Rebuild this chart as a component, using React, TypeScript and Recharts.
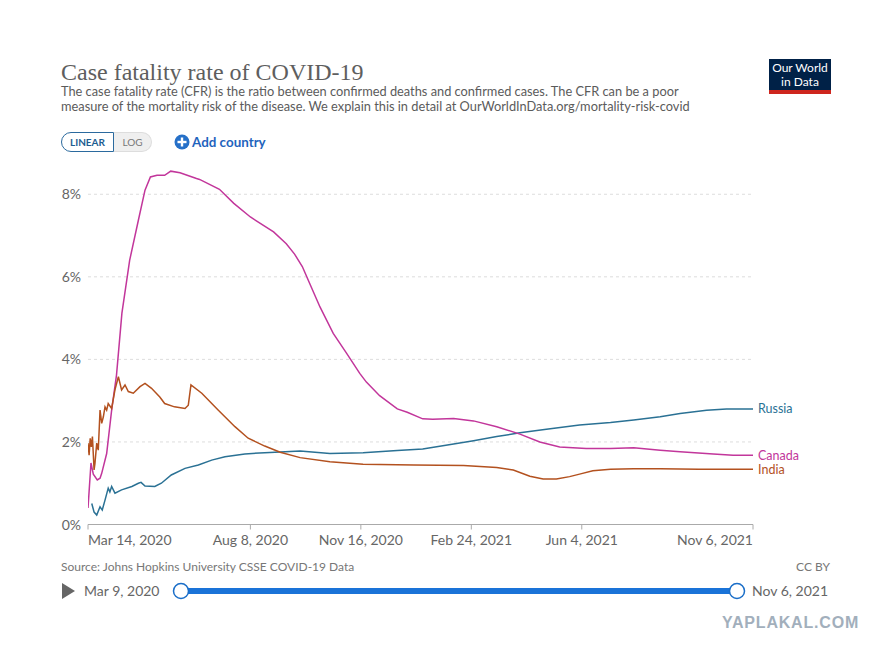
import React from "react";
import { LineChart, Line, XAxis, YAxis, CartesianGrid } from "recharts";

// Days counted from Mar 14, 2020 (first axis tick)
const TICK_DAYS = [0, 147, 247, 347, 447, 602];
const TICK_LABELS = ["Mar 14, 2020", "Aug 8, 2020", "Nov 16, 2020", "Feb 24, 2021", "Jun 4, 2021", "Nov 6, 2021"];
const Y_TICKS = [0, 2, 4, 6, 8];
const GRID_VALUES = [2, 4, 6, 8];

const canadaDays = [0, 2.7, 4.8, 8.4, 10.9, 12.4, 16.9, 21.4, 25.8, 30.7, 37.7, 45.6, 51.6, 56.5, 62.5, 69.4, 74.9, 83.3, 98.2, 101, 119, 132, 147, 168, 179.5, 187, 194, 201, 210, 222, 234, 246, 252, 264, 280, 289, 303, 312, 331, 349, 370, 391, 409, 427, 451, 473, 494, 518, 536, 566, 584, 602];
const canadaCfr = [0.4, 1.49, 1.22, 1.08, 1.12, 1.24, 1.72, 2.77, 3.62, 5.12, 6.4, 7.37, 8.1, 8.42, 8.46, 8.46, 8.56, 8.52, 8.38, 8.36, 8.12, 7.78, 7.45, 7.09, 6.8, 6.55, 6.25, 5.82, 5.27, 4.63, 4.15, 3.66, 3.45, 3.12, 2.8, 2.72, 2.56, 2.55, 2.57, 2.51, 2.37, 2.19, 2.0, 1.88, 1.84, 1.84, 1.86, 1.8, 1.76, 1.71, 1.68, 1.68];

const russiaDays = [3.4, 5.5, 7.9, 10.9, 12.9, 15.4, 18.3, 19.8, 21.4, 24.4, 30.4, 39.7, 45.6, 48, 51.6, 60.5, 66.4, 75.4, 87.8, 99.9, 112, 124, 142, 160, 178.5, 192, 219, 249, 280, 303, 324, 349, 370, 391, 415, 445, 473, 494, 518, 536, 560, 578, 602];
const russiaCfr = [0.51, 0.3, 0.23, 0.43, 0.35, 0.59, 0.88, 0.79, 0.92, 0.76, 0.84, 0.92, 1.0, 1.02, 0.93, 0.92, 1.0, 1.2, 1.36, 1.44, 1.56, 1.64, 1.71, 1.74, 1.76, 1.78, 1.72, 1.74, 1.79, 1.83, 1.92, 2.03, 2.13, 2.22, 2.31, 2.41, 2.47, 2.53, 2.61, 2.69, 2.77, 2.8, 2.8];

const indiaDays = [0, 1, 2, 3, 4, 5.5, 6.3, 7.9, 9.3, 10.9, 12.4, 13.9, 15.4, 16.9, 18.3, 21.4, 24.4, 27.5, 30.4, 33.5, 36.5, 41, 47.1, 51.6, 57.5, 65, 69.4, 78.3, 87.8, 90.8, 93.2, 103, 118, 133, 145, 160, 174, 192, 219, 249, 295, 340, 370, 385, 400, 412, 424, 436, 445, 457, 473, 494, 518, 553, 578, 602];
const indiaCfr = [1.97, 1.68, 2.09, 1.88, 2.13, 1.32, 1.48, 1.97, 1.8, 2.77, 2.45, 2.61, 2.85, 2.77, 2.93, 2.81, 3.26, 3.58, 3.26, 3.38, 3.22, 3.18, 3.34, 3.42, 3.3, 3.09, 2.93, 2.85, 2.81, 2.89, 3.38, 3.18, 2.77, 2.37, 2.09, 1.9, 1.75, 1.62, 1.52, 1.46, 1.44, 1.43, 1.38, 1.32, 1.17, 1.1, 1.1, 1.16, 1.22, 1.3, 1.34, 1.35, 1.35, 1.34, 1.34, 1.34];

const SERIES = [
  { name: "Russia", color: "#2a7194", days: russiaDays, values: russiaCfr },
  { name: "Canada", color: "#c2369b", days: canadaDays, values: canadaCfr },
  { name: "India", color: "#b3511f", days: indiaDays, values: indiaCfr },
];

const FONT = "Lato, 'Noto Sans', sans-serif";

const XTick = (props: any) => {
  const { x, y, payload } = props;
  const i = TICK_DAYS.indexOf(payload.value);
  const anchor = i === 0 ? "start" : i === TICK_DAYS.length - 1 ? "end" : "middle";
  return (
    <text x={x} y={y} dy={11} textAnchor={anchor} fill="#666" fontSize={14} fontFamily={FONT}>
      {TICK_LABELS[i]}
    </text>
  );
};

const YTick = (props: any) => {
  const { x, y, payload } = props;
  return (
    <text x={x} y={y} dy={5} textAnchor="end" fill="#666" fontSize={14} fontFamily={FONT}>
      {payload.value + "%"}
    </text>
  );
};

const makeEndLabel = (name: string, color: string, last: number) => (props: any) => {
  if (props.index !== last) return null;
  return (
    <text key={name} x={props.x + 5} y={props.y} dy={4.5} fill={color} fontSize={12.5} fontFamily={FONT}>
      {name}
    </text>
  );
};

const abs = (s: React.CSSProperties): React.CSSProperties => ({ position: "absolute", ...s });

export default function App() {
  return (
    <div style={abs({ left: 0, top: 0, width: 886, height: 653, background: "#fff", overflow: "hidden", fontFamily: FONT })}>
      <div style={abs({ left: 61, top: 58, fontFamily: "'Liberation Serif', 'DejaVu Serif', serif", fontSize: 24, lineHeight: "28px", color: "#5e5e5e", whiteSpace: "nowrap" })}>
        Case fatality rate of COVID-19
      </div>
      <div style={abs({ left: 61, top: 83.5, fontSize: 12.8, lineHeight: "15px", color: "#5b5b5b", whiteSpace: "nowrap" })}>
        The case fatality rate (CFR) is the ratio between confirmed deaths and confirmed cases. The CFR can be a poor
        <br />
        measure of the mortality risk of the disease. We explain this in detail at OurWorldInData.org/mortality-risk-covid
      </div>

      {/* logo */}
      <div style={abs({ left: 769, top: 59, width: 62, height: 31, background: "#002147" })} />
      <div style={abs({ left: 769, top: 61, width: 62, color: "#fff", fontSize: 12, lineHeight: "13px", textAlign: "center", whiteSpace: "nowrap" })}>
        Our World
      </div>
      <div style={abs({ left: 769, top: 75, width: 62, color: "#fff", fontSize: 12, lineHeight: "13px", textAlign: "center", whiteSpace: "nowrap" })}>
        in Data
      </div>
      <div style={abs({ left: 769, top: 90, width: 62, height: 3.5, background: "#ce261e" })} />

      {/* linear / log toggle */}
      <div style={abs({ left: 61, top: 132, width: 53, height: 20, border: "1px solid #2b6a9e", borderRadius: "10px 0 0 10px", boxSizing: "border-box", color: "#1d5d91", fontSize: 10, fontWeight: 700, lineHeight: "18px", textAlign: "center", background: "#fff" })}>
        LINEAR
      </div>
      <div style={abs({ left: 114, top: 132, width: 38, height: 20, border: "1px solid #ddd", borderLeft: "none", borderRadius: "0 10px 10px 0", boxSizing: "border-box", color: "#777", fontSize: 10, lineHeight: "18px", textAlign: "center", background: "#efefef" })}>
        LOG
      </div>

      {/* add country */}
      <svg style={abs({ left: 174, top: 134 })} width={16} height={16}>
        <circle cx={8} cy={8} r={7.5} fill="#2670c8" />
        <rect x={3.5} y={6.8} width={9} height={2.4} fill="#fff" />
        <rect x={6.8} y={3.5} width={2.4} height={9} fill="#fff" />
      </svg>
      <div style={abs({ left: 192, top: 133, fontSize: 13.4, fontWeight: 700, lineHeight: "18px", color: "#1f64bd", whiteSpace: "nowrap" })}>
        Add country
      </div>

      <div style={abs({ left: 0, top: 0 })}>
        <LineChart width={886} height={653} margin={{ top: 169.5, right: 133, bottom: 98.5, left: 48 }}>
          <CartesianGrid vertical={false} horizontalValues={GRID_VALUES} stroke="#ddd" strokeDasharray="3 3" />
          <XAxis
            type="number"
            dataKey="day"
            domain={[0, 602]}
            ticks={TICK_DAYS}
            tick={<XTick />}
            tickSize={5}
            tickMargin={4}
            height={30}
            stroke="#aaa"
            allowDataOverflow
            interval={0}
          />
          <YAxis
            type="number"
            domain={[0, 8.6]}
            ticks={Y_TICKS}
            tick={<YTick />}
            axisLine={false}
            tickLine={false}
            tickSize={0}
            tickMargin={7}
            width={40}
            interval={0}
          />
          {SERIES.map((s) => (
            <Line
              key={s.name}
              data={s.days.map((d, i) => ({ day: d, cfr: s.values[i] }))}
              dataKey="cfr"
              type="linear"
              stroke={s.color}
              strokeWidth={1.5}
              dot={false}
              activeDot={false}
              isAnimationActive={false}
              label={makeEndLabel(s.name, s.color, s.days.length - 1)}
            />
          ))}
        </LineChart>
      </div>

      {/* footer */}
      <div style={abs({ left: 61, top: 560, fontSize: 12, lineHeight: "14px", color: "#777", whiteSpace: "nowrap" })}>
        Source: Johns Hopkins University CSSE COVID-19 Data
      </div>
      <div style={abs({ left: 780, width: 50, top: 560, fontSize: 12, lineHeight: "14px", color: "#777", textAlign: "right" })}>CC BY</div>

      {/* timeline */}
      <svg style={abs({ left: 0, top: 575 })} width={886} height={34}>
        <polygon points="62,8 62,24 75,16" fill="#666" />
        <rect x={181} y={13} width={556} height={6} fill="#1a73d8" />
        <circle cx={181} cy={16} r={7.5} fill="#fff" stroke="#1a6ec8" strokeWidth={1.5} />
        <circle cx={737} cy={16} r={7.5} fill="#fff" stroke="#1a6ec8" strokeWidth={1.5} />
      </svg>
      <div style={abs({ left: 84, top: 582, fontSize: 14, lineHeight: "18px", color: "#666", whiteSpace: "nowrap" })}>Mar 9, 2020</div>
      <div style={abs({ left: 752, top: 582, fontSize: 14, lineHeight: "18px", color: "#666", whiteSpace: "nowrap" })}>Nov 6, 2021</div>

      {/* watermark */}
      <div style={abs({ left: 722, top: 614, fontFamily: "'Liberation Sans', sans-serif", fontSize: 16, fontWeight: 700, letterSpacing: 0.8, lineHeight: "18px", color: "#a2afbc", whiteSpace: "nowrap" })}>
        YAPLAKAL.COM
      </div>
    </div>
  );
}
